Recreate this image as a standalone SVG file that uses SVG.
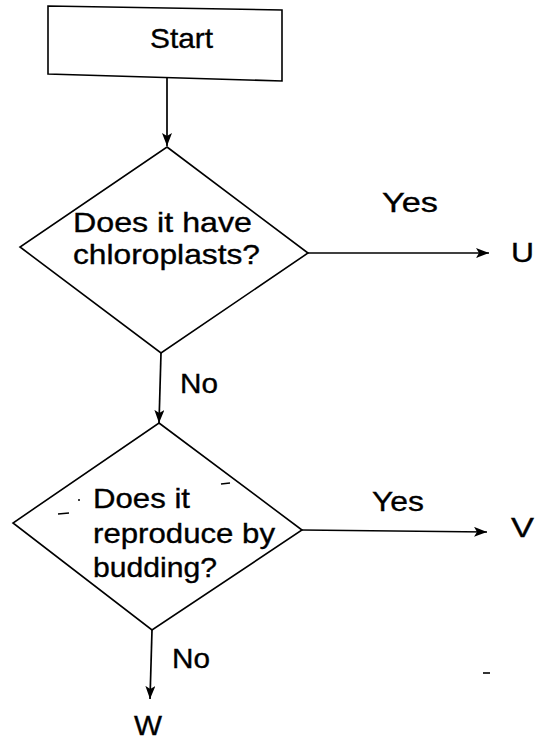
<svg xmlns="http://www.w3.org/2000/svg" width="544" height="740" viewBox="0 0 544 740">
  <style>
    .shape { fill: #fff; stroke: #000; stroke-width: 1.6; }
    .edge { fill: none; stroke: #000; stroke-width: 1.7; }
    .lbl { font-family: "Liberation Sans", Arial, sans-serif; font-size: 28px; fill: #000; stroke: #000; stroke-width: 0.35; }
    .mark { stroke: #000; stroke-width: 1.6; }
  </style>
  <defs>
    <marker id="arrow" viewBox="0 0 13 10" refX="13" refY="5" markerWidth="13" markerHeight="10" markerUnits="userSpaceOnUse" orient="auto">
      <path d="M0,0 L13,5 L0,10 L3,5 z" fill="#000"/>
    </marker>
  </defs>
  <rect width="544" height="740" fill="#fff"/>

  <g id="start">
    <polygon class="shape" points="48,6 282,10 282,81 48,74"/>
    <text class="lbl" x="150" y="48" textLength="63" lengthAdjust="spacingAndGlyphs">Start</text>
  </g>

  <g id="q1">
    <polygon class="shape" points="167,147 308,253 161,353 20,247"/>
    <text class="lbl" x="73" y="232" textLength="179" lengthAdjust="spacingAndGlyphs">Does it have</text>
    <text class="lbl" x="73" y="264" textLength="187" lengthAdjust="spacingAndGlyphs">chloroplasts?</text>
  </g>

  <g id="q2">
    <polygon class="shape" points="159,423 302,530 152,630 13,523"/>
    <text class="lbl" x="93" y="508" textLength="97" lengthAdjust="spacingAndGlyphs">Does it</text>
    <text class="lbl" x="93" y="543" textLength="182" lengthAdjust="spacingAndGlyphs">reproduce by</text>
    <text class="lbl" x="93" y="577" textLength="124" lengthAdjust="spacingAndGlyphs">budding?</text>
  </g>

  <g id="u">
    <text class="lbl" x="511" y="262" textLength="23" lengthAdjust="spacingAndGlyphs">U</text>
  </g>
  <g id="v">
    <text class="lbl" x="511" y="537" textLength="23" lengthAdjust="spacingAndGlyphs">V</text>
  </g>
  <g id="w">
    <text class="lbl" x="134" y="735" textLength="28" lengthAdjust="spacingAndGlyphs">W</text>
  </g>

  <g id="connectors">
    <line class="edge" x1="167" y1="78" x2="167" y2="146" marker-end="url(#arrow)"/>
    <line class="edge" x1="308" y1="253" x2="489" y2="253" marker-end="url(#arrow)"/>
    <text class="lbl" x="382" y="212" textLength="56" lengthAdjust="spacingAndGlyphs">Yes</text>
    <line class="edge" x1="161" y1="353" x2="159" y2="423" marker-end="url(#arrow)"/>
    <text class="lbl" x="180" y="393" textLength="38" lengthAdjust="spacingAndGlyphs">No</text>
    <line class="edge" x1="302" y1="530" x2="487" y2="532" marker-end="url(#arrow)"/>
    <text class="lbl" x="372" y="511" textLength="52" lengthAdjust="spacingAndGlyphs">Yes</text>
    <line class="edge" x1="152" y1="630" x2="150" y2="699" marker-end="url(#arrow)"/>
    <text class="lbl" x="172" y="668" textLength="38" lengthAdjust="spacingAndGlyphs">No</text>
  </g>

  <!-- stray specks -->
  <line class="mark" x1="58" y1="514" x2="69" y2="513"/>
  <line class="mark" x1="221" y1="484" x2="230" y2="483"/>
  <circle cx="79" cy="500" r="1" fill="#000"/>
  <line class="mark" x1="483" y1="673" x2="490" y2="673"/>
</svg>
